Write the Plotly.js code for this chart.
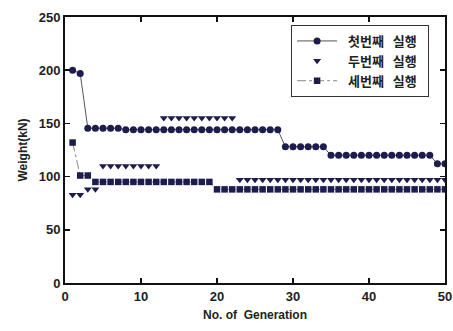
<!DOCTYPE html>
<html>
<head>
<meta charset="utf-8">
<script src="https://cdn.plot.ly/plotly-3.0.1.min.js"></script>
<style>html,body{margin:0;padding:0;background:#fff;}#chart{width:453px;height:331px;}</style>
</head>
<body>
<div id="chart"></div>
<script>
const generation = [1,2,3,4,5,6,7,8,9,10,11,12,13,14,15,16,17,18,19,20,21,22,23,24,25,26,27,28,29,30,31,32,33,34,35,36,37,38,39,40,41,42,43,44,45,46,47,48,49,50];
const run1 = [200,197,145.5,145.5,145.5,145.5,145.5,144,144,144,144,144,144,144,144,144,144,144,144,144,144,144,144,144,144,144,144,144,128,128,128,128,128,128,120,120,120,120,120,120,120,120,120,120,120,120,120,120,112,112];
const run2 = [83,83,88,88,110,110,110,110,110,110,110,110,155,155,155,155,155,155,155,155,155,155,97,97,97,97,97,97,97,97,97,97,97,97,97,97,97,97,97,97,97,97,97,97,97,97,97,97,97,97];
const run3 = [132,101,101,95,95,95,95,95,95,95,95,95,95,95,95,95,95,95,95,88,88,88,88,88,88,88,88,88,88,88,88,88,88,88,88,88,88,88,88,88,88,88,88,88,88,88,88,88,88,88];
const names = ['  첫번째   실행  ', '  두번째   실행  ', '  세번째   실행  '];
const xTicks = [0,10,20,30,40,50];
const yTicks = [0,50,100,150,200,250];

const mk = '#1c1c4e';
const fam = 'Liberation Sans, Arial, sans-serif';
const traces = [
  {x: generation, y: run1, name: names[0], mode: 'lines+markers',
   line: {color: '#555', width: 1}, marker: {symbol: 'circle', size: 7, color: mk}},
  {x: generation, y: run2, name: names[1], mode: 'markers',
   marker: {symbol: 'triangle-down', size: 7, color: mk}},
  {x: generation, y: run3, name: names[2], mode: 'lines+markers',
   line: {color: '#888', width: 1, dash: 'dashdot'}, marker: {symbol: 'square', size: 6.5, color: mk}}
];
const axisCommon = {showgrid: false, zeroline: false, showline: true, linecolor: '#111', linewidth: 2,
  mirror: 'ticks', ticks: 'inside', ticklen: 5, tickwidth: 1.5, tickcolor: '#111',
  tickfont: {family: fam, size: 13, color: '#222', weight: 'bold'}};
const layout = {
  width: 453, height: 331,
  margin: {l: 65, r: 8, t: 17, b: 48},
  paper_bgcolor: '#fff', plot_bgcolor: '#fff',
  showlegend: true,
  font: {family: fam, size: 12, color: '#222'},
  xaxis: Object.assign({}, axisCommon, {range: [0, 50], tickvals: xTicks, ticktext: xTicks.map(String),
    title: {text: 'No. of  Generation', font: {family: fam, size: 12, color: '#222', weight: 'bold'}, standoff: 8}}),
  yaxis: Object.assign({}, axisCommon, {range: [0, 250], tickvals: yTicks, ticktext: yTicks.map(String),
    title: {text: 'Weight(kN)', font: {family: fam, size: 12, color: '#222', weight: 'bold'}, standoff: 8}}),
  legend: {x: 0.595, y: 0.97, xanchor: 'left', yanchor: 'top', bgcolor: '#fff', bordercolor: '#333', borderwidth: 1,
    font: {family: 'Noto Sans CJK KR, sans-serif', size: 13, color: '#222', weight: 'bold'}, tracegroupgap: 0, itemwidth: 40}
};
Plotly.newPlot('chart', traces, layout, {displayModeBar: false, staticPlot: true});
</script>
</body>
</html>
